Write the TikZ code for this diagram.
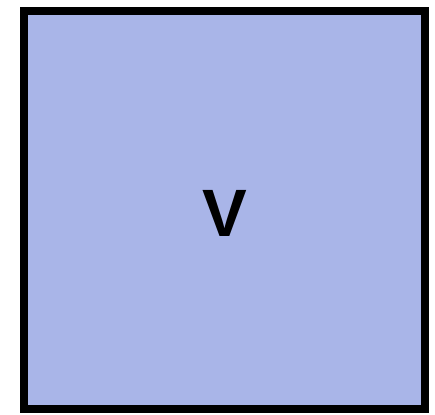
\documentclass[tikz,border=0pt]{standalone}
\usepackage{fontspec}
\setsansfont{Liberation Sans}
\usepackage{tikz}
\usetikzlibrary{shadows}
\definecolor{boxblue}{RGB}{169,181,232}

\begin{document}
\begin{tikzpicture}[x=1pt, y=-1pt,
    block/.style={draw=black, line width=8pt, fill=boxblue, inner sep=0pt,
      minimum width=401pt, minimum height=398pt,
      drop shadow={shadow xshift=-2pt, shadow yshift=-2pt, opacity=0.25}},
    letter/.style={font=\sffamily\bfseries\fontsize{67}{67}\selectfont}]

  \useasboundingbox (0, 0) rectangle (435, 414);

  % the box with its letter
  \node[block] (box) at (224.5, 210) {};
  \node[letter] (v) at (225, 213) {V};
\end{tikzpicture}
\end{document}
